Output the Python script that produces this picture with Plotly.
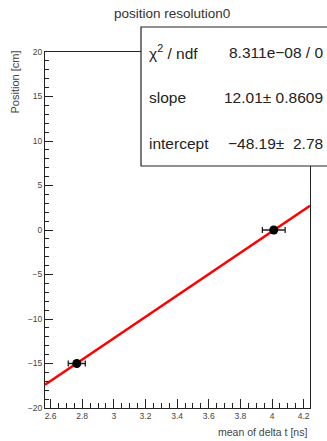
import plotly.graph_objects as go

# data
x_vals = [2.766, 4.011]
y_vals = [-15.0, 0.0]
x_err = [0.054, 0.072]
fit_slope = 12.01
fit_intercept = -48.19
x_range = [2.565, 4.24]
y_range = [-20, 20]
title = "position resolution0"
x_title = "mean of delta t [ns]"
y_title = "Position [cm]"
stat_labels = ["χ<sup>2</sup> / ndf", "slope", "intercept"]
stat_values = ["8.311e−08 / 0", "12.01± 0.8609", "−48.19±  2.78"]

W, H = 327, 441
L, R, T, B = 45, 17, 52, 33
font = "Liberation Sans, Arial, sans-serif"

fit_x = x_range
fit_y = [fit_slope * v + fit_intercept for v in fit_x]

fig = go.Figure()
fig.add_trace(go.Scatter(x=fit_x, y=fit_y, mode="lines",
                         line=dict(color="#ff0000", width=2.5), showlegend=False))
fig.add_trace(go.Scatter(x=x_vals, y=y_vals, mode="markers",
                         marker=dict(color="black", size=9),
                         error_x=dict(type="data", array=x_err, color="#222", thickness=1.3, width=3),
                         showlegend=False))

pw = W - L - R
ph = H - T - B
def px2x(px):
    return (px - L) / pw
def py2y(py):
    return (H - B - py) / ph

fig.update_layout(
    width=W, height=H, autosize=False,
    margin=dict(l=L, r=R, t=T, b=B, pad=0),
    paper_bgcolor="white", plot_bgcolor="white",
    font=dict(family=font, color="#333"),
    xaxis=dict(range=x_range, showgrid=False, zeroline=False,
               showline=True, linecolor="#222", linewidth=1, mirror=True,
               ticks="inside", ticklen=9, tickcolor="#222", dtick=0.2, tick0=2.6,
               tickfont=dict(size=8.5, color="#444"),
               minor=dict(ticks="inside", ticklen=5, dtick=0.05, tick0=2.6, tickcolor="#222")),
    yaxis=dict(range=y_range, showgrid=False, zeroline=False,
               showline=True, linecolor="#222", linewidth=1, mirror=True,
               ticks="inside", ticklen=8, tickcolor="#222", dtick=5,
               tickfont=dict(size=8.5, color="#444"),
               minor=dict(ticks="inside", ticklen=4, dtick=1, tickcolor="#222")),
)

annotations = [
    dict(text=title, xref="paper", yref="paper", x=px2x(172), y=py2y(13),
         showarrow=False, xanchor="center", yanchor="middle",
         font=dict(size=13.5, color="#333")),
    dict(text=x_title, xref="paper", yref="paper", x=px2x(309), y=py2y(432),
         showarrow=False, xanchor="right", yanchor="middle",
         font=dict(size=10.5, color="#444")),
    dict(text=y_title, xref="paper", yref="paper", x=px2x(14), y=py2y(49),
         showarrow=False, xanchor="center", yanchor="top", textangle=-90,
         font=dict(size=11, color="#444")),
]
rows_y = [52, 97, 143]
for lab, val, ry in zip(stat_labels, stat_values, rows_y):
    annotations.append(dict(text=lab, xref="paper", yref="paper", x=px2x(147), y=py2y(ry),
                            showarrow=False, xanchor="left", yanchor="middle",
                            font=dict(size=15.5, color="#222")))
    annotations.append(dict(text=val, xref="paper", yref="paper", x=px2x(325), y=py2y(ry),
                            showarrow=False, xanchor="right", yanchor="middle",
                            font=dict(size=15.5, color="#222")))
fig.update_layout(annotations=annotations)

fig.add_shape(type="rect", xref="paper", yref="paper",
              x0=px2x(141), x1=px2x(340), y0=py2y(166), y1=py2y(27),
              line=dict(color="#222", width=1.2), fillcolor="white", layer="above")

fig.write_html("out.html", config={"responsive": False, "displayModeBar": False},
               post_script="document.body.style.margin='0';document.body.style.overflow='hidden';")
